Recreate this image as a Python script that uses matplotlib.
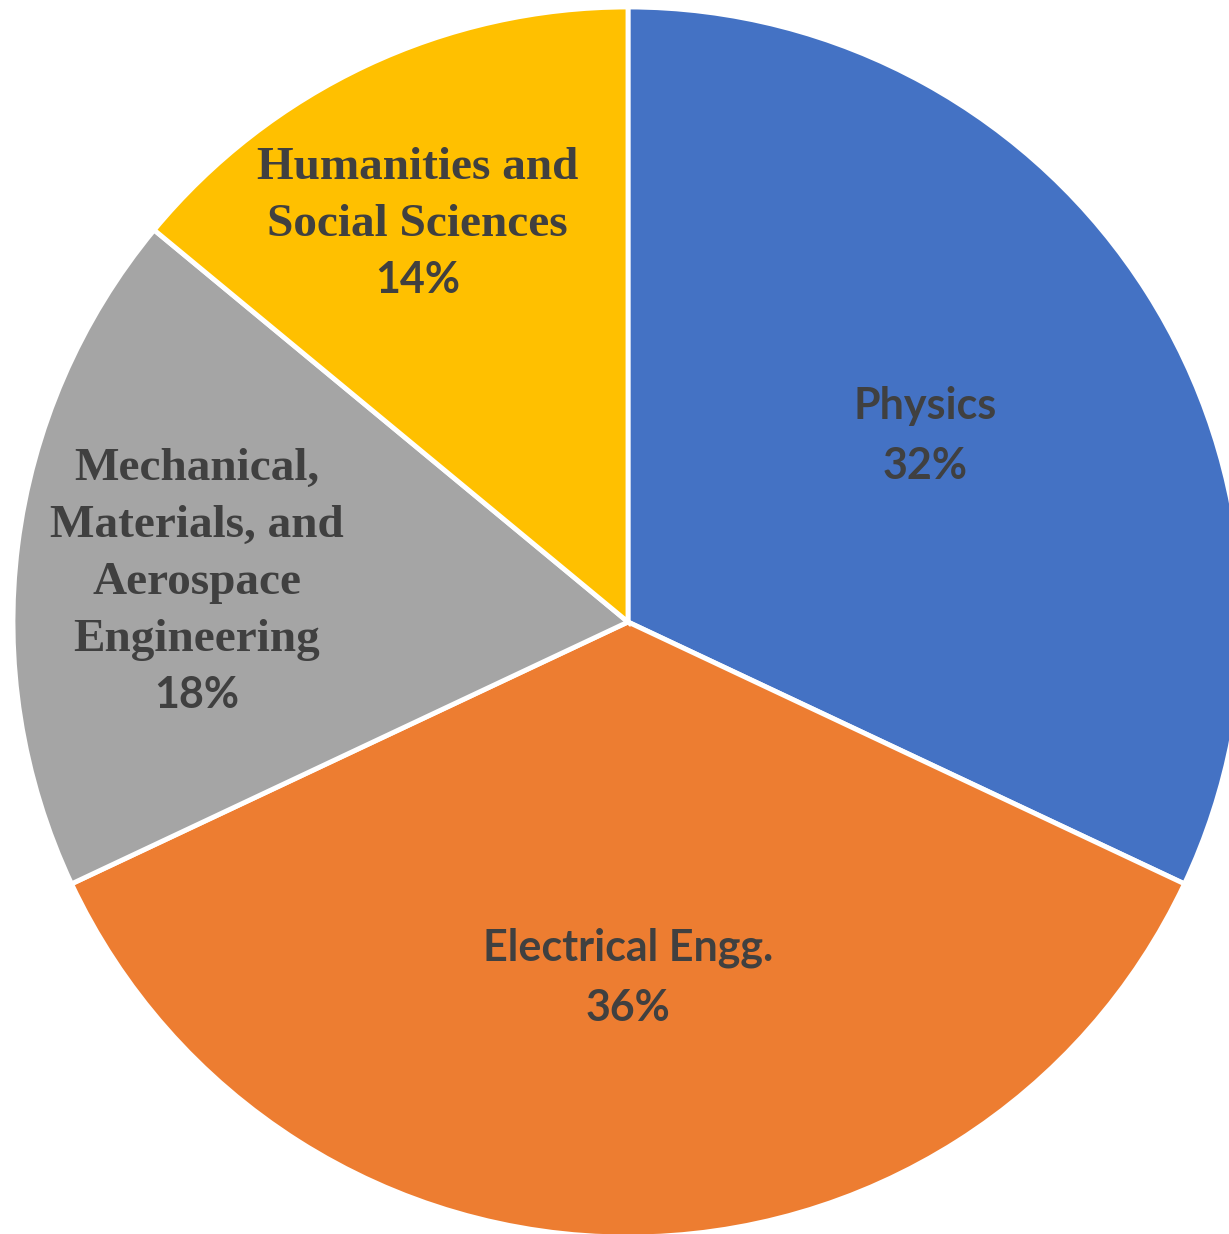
import matplotlib.pyplot as plt
import numpy as np

# data
labels = ['Physics', 'Electrical Engg.',
          'Mechanical,\nMaterials, and\nAerospace\nEngineering',
          'Humanities and\nSocial Sciences']
shares = [32, 36, 18, 14]
colors = ['#4472C4', '#ED7D31', '#A5A5A5', '#FFC000']

# label look (serif for the two long names, like the original)
name_font = ['Lato', 'Lato', 'Liberation Serif', 'Liberation Serif']
label_r = [0.572, 0.575, 0.705, 0.736]
label_shift = [0, 0, 1.5, 2.5]  # degrees, nudges the best-fit spot
txt_color = '#404040'

fig = plt.figure(figsize=(12.29, 12.34), dpi=100)
ax = fig.add_axes([0, 0, 1, 1])

wedges, _ = ax.pie(shares, colors=colors, startangle=90, counterclock=False,
                   radius=1, wedgeprops=dict(edgecolor='white', linewidth=3.5))

# pixel geometry of the original: centre (628, 622), radius 615
W, H, cx, cy, R = 1229, 1234, 628, 622, 615
ax.set_xlim(-cx / R, (W - cx) / R)
ax.set_ylim(-(H - cy) / R, cy / R)
ax.set_aspect('auto')
ax.axis('off')

px = 72 / 100  # points per pixel
for w, name, pct, fam, r, d in zip(wedges, labels, shares, name_font, label_r, label_shift):
    ang = np.deg2rad((w.theta1 + w.theta2) / 2 + d)
    x, y = r * np.cos(ang), r * np.sin(ang)
    lines = name.split('\n') + [f'{pct}%']
    n = len(lines)
    pitch = 60 if fam == 'Lato' else 57
    for i, line in enumerate(lines):
        is_pct = i == n - 1
        f = 'Lato' if is_pct else fam
        size = 31 if f == 'Lato' else 34
        off = ((n - 1) / 2 - i) * pitch - 15
        ax.annotate(line, (x, y), xytext=(0, off * px), textcoords='offset points',
                    ha='center', va='baseline', fontsize=size, fontweight='bold',
                    family=f, color=txt_color)

fig.savefig('out.png', dpi=100)
